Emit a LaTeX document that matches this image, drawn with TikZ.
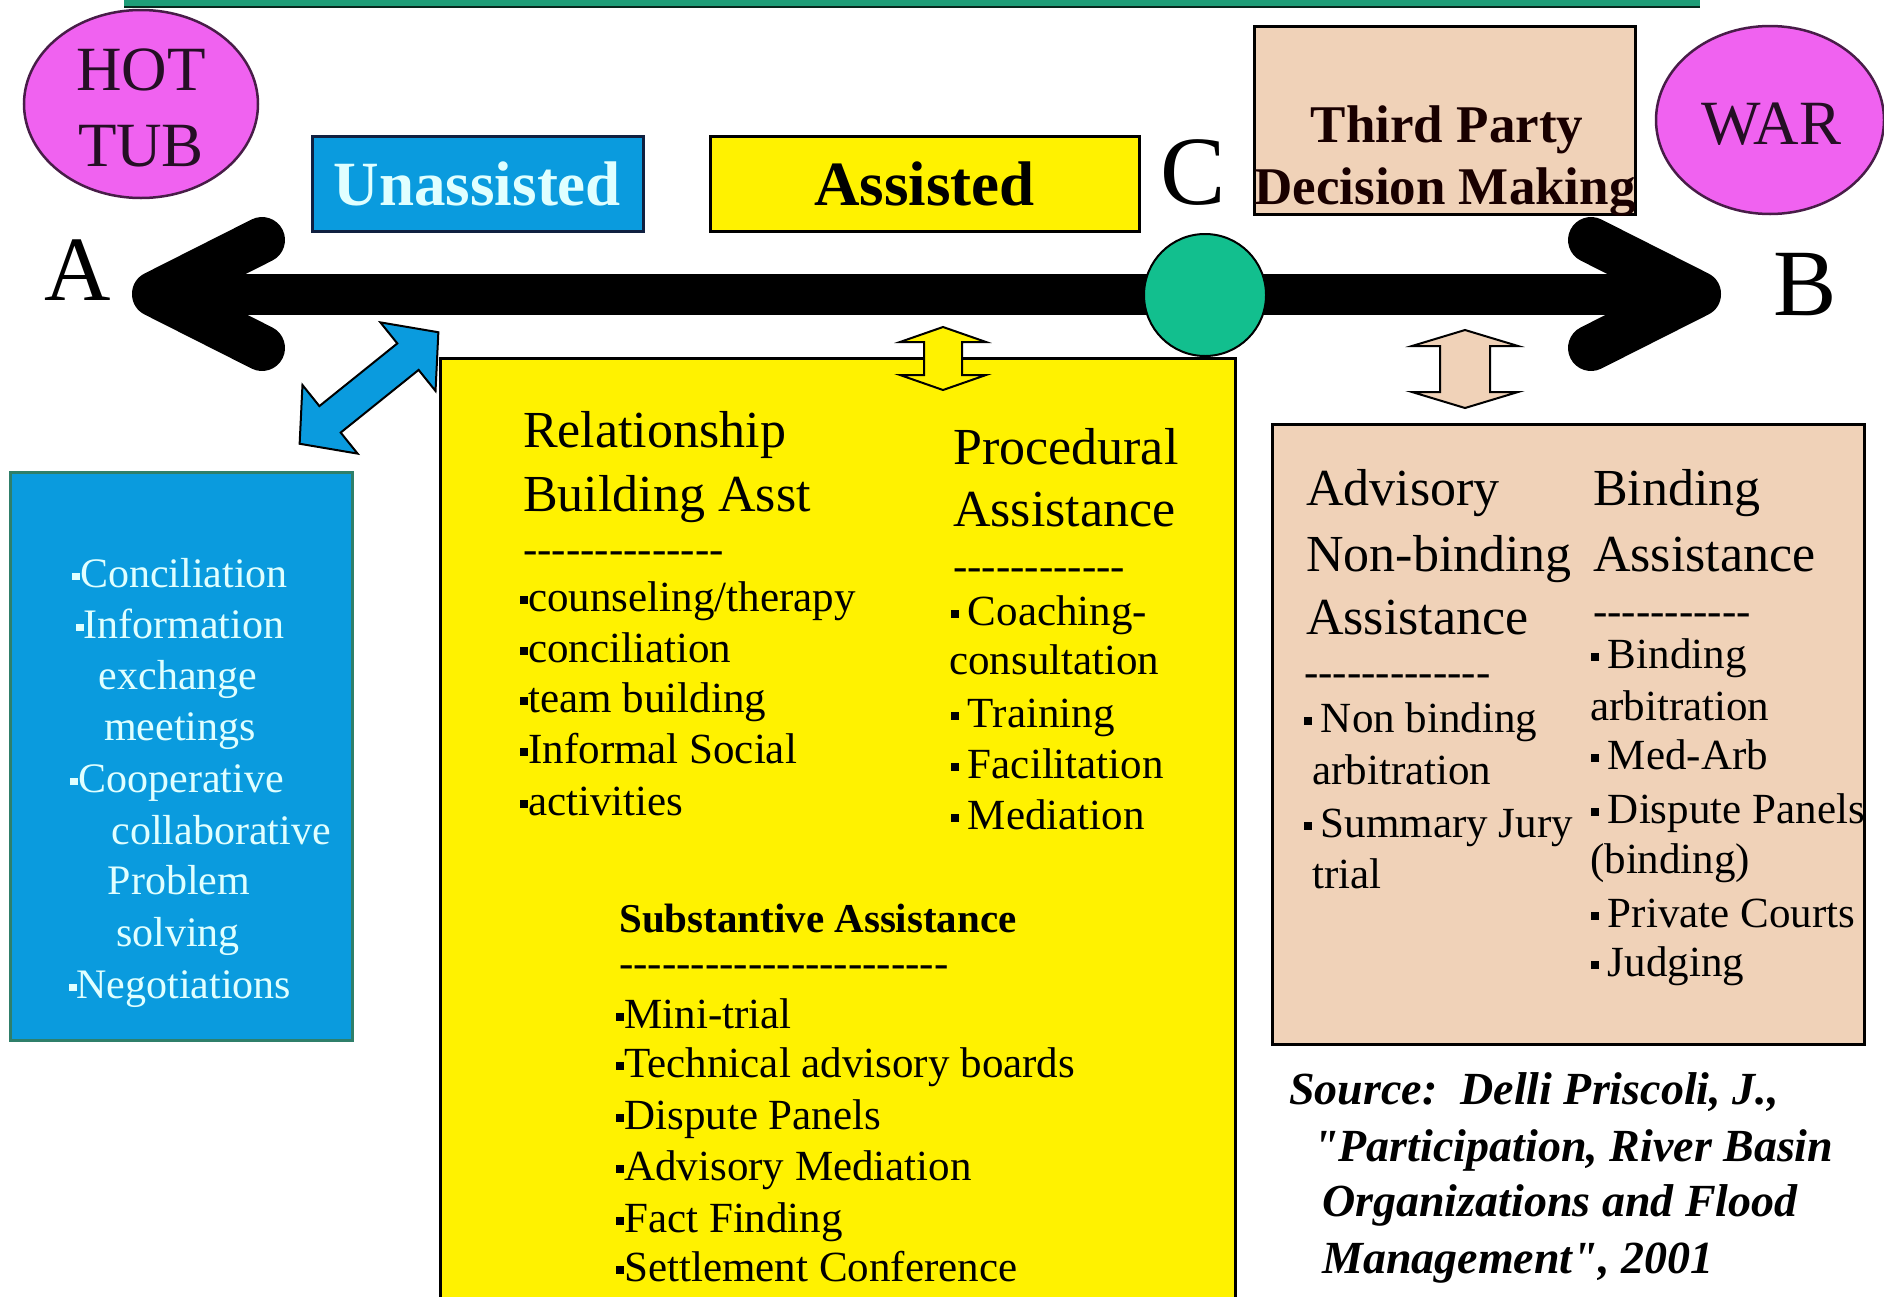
\documentclass[tikz,border=0pt]{standalone}
\usepackage{fontspec}
\setmainfont{Liberation Serif}
\newfontfamily\tnr{Liberation Serif}
\usetikzlibrary{shapes.geometric}

\definecolor{tubpink}{HTML}{F062F0}
\definecolor{skyblue}{HTML}{0A9BDE}
\definecolor{tanfill}{HTML}{F0D2B8}
\definecolor{tealdot}{HTML}{12BF8E}
\definecolor{barteal}{HTML}{1E9E78}
\definecolor{paletext}{HTML}{E0FFFF}
\definecolor{bluerim}{HTML}{2F7F6A}
\definecolor{navyrim}{HTML}{102040}

\newcommand\fs[2]{\fontsize{#1}{#2}\selectfont}
\newcommand\bul{\rule[0.16em]{0.19em}{0.19em}}
\newcommand\hyrow[1]{\count255=0 \loop\ifnum\count255<#1 \mbox{-}\advance\count255 by 1 \repeat}
% double-headed block arrow: centre x, centre y, angle, half length,
% head length, head half width, shaft half width, style
\newcommand\dblarr[8]{%
  \begin{scope}[shift={(#1,#2)}, rotate=#3]
    \draw[#8] (-#4,0) -- (-#4+#5,#6) -- (-#4+#5,#7) -- (#4-#5,#7) -- (#4-#5,#6)
      -- (#4,0) -- (#4-#5,-#6) -- (#4-#5,-#7) -- (-#4+#5,-#7) -- (-#4+#5,-#6) -- cycle;
  \end{scope}}

\begin{document}
\begin{tikzpicture}[x=1pt,y=-1pt,
  boxframe/.style={draw=black, line width=3pt, inner sep=0pt},
  bigtxt/.style={inner sep=0pt, anchor=base},
  hdr/.style={inner sep=0pt, anchor=west, font=\tnr\fs{52}{62}, execute at begin node=\strut},
  itm/.style={inner sep=0pt, anchor=west, font=\tnr\fs{43}{51}, execute at begin node=\strut},
  bltxt/.style={inner sep=0pt, anchor=center, text=paletext, font=\tnr\fs{42}{51}, execute at begin node=\strut},
  srctxt/.style={inner sep=0pt, anchor=west, font=\tnr\fs{46}{56}\bfseries\itshape, execute at begin node=\strut},
  arrowbody/.style={draw=black, line width=2pt, line join=miter}]

\fill[white] (0,0) rectangle (1884,1296);
\useasboundingbox (0,0) rectangle (1884,1296);

% thin band along the top edge
\fill[barteal] (124,0) rectangle (1700,7);
\draw[line width=2pt, black!75!barteal] (124,7) -- (1700,7);

% the two extremes
\node[ellipse, draw=black!70!tubpink, line width=2.5pt, fill=tubpink,
      minimum width=234pt, minimum height=188pt, inner sep=0pt] (hot) at (141,104) {};
\node[bigtxt, font=\tnr\fs{63}{75}, text=black!85!tubpink] (hotl) at (141,90) {HOT};
\node[bigtxt, font=\tnr\fs{63}{75}, text=black!85!tubpink] (tubl) at (141,166) {TUB};

\node[ellipse, draw=black!70!tubpink, line width=2.5pt, fill=tubpink,
      minimum width=228pt, minimum height=188pt, inner sep=0pt] (war) at (1770,120) {};
\node[bigtxt, font=\tnr\fs{63}{75}, text=black!85!tubpink] (warl) at (1771,144) {WAR};

% category headings
\node[boxframe, draw=navyrim, fill=skyblue, minimum width=331pt, minimum height=95pt] (unas) at (477.5,183.5) {};
\node[inner sep=0pt, font=\tnr\fs{63}{70}\bfseries, text=paletext] (unasl) at (unas) {Unassisted};

\node[boxframe, fill=yellow, minimum width=429pt, minimum height=95pt] (asst) at (924.5,183.5) {};
\node[inner sep=0pt, font=\tnr\fs{63}{70}\bfseries] (asstl) at (asst) {Assisted};

\node[boxframe, fill=tanfill, minimum width=381pt, minimum height=188pt] (third) at (1444.5,120) {};
\node[bigtxt, font=\tnr\fs{53}{62}\bfseries, text=black!90!red] (thirdl1) at (1447,142) {Third Party};
\node[bigtxt, font=\tnr\fs{53}{62}\bfseries, text=black!90!red] (thirdl2) at (1445,204) {Decision Making};

% end and mid labels
\node[bigtxt, font=\tnr\fs{92}{92}] (labA) at (78,300) {A};
\node[bigtxt, font=\tnr\fs{95}{95}] (labB) at (1805,315) {B};
\node[bigtxt, font=\tnr\fs{98}{98}] (labC) at (1193,204) {C};

% the continuum arrow
\coordinate (endA) at (155,294);
\coordinate (endB) at (1698,294);
\draw[line width=41pt] (endA) -- (endB);
\draw[line width=46pt, line cap=round, line join=round] (262,240) -- (endA) -- (262,348);
\draw[line width=46pt, line cap=round, line join=round] (1591,240) -- (endB) -- (1591,348);
\node[circle, draw=black, line width=2pt, fill=tealdot, minimum size=122pt, inner sep=0pt] (cpt) at (1205,295) {};

% detail panels
\node[draw=bluerim, line width=3pt, fill=skyblue, minimum width=342pt, minimum height=568pt, inner sep=0pt] (ubox) at (181,756) {};
\node[boxframe, fill=yellow, minimum width=795pt, minimum height=952pt] (abox) at (837.5,834) {};
\node[boxframe, fill=tanfill, minimum width=592pt, minimum height=620pt] (tbox) at (1568,734) {};

% links between the continuum and the panels
\dblarr{369}{388}{38.8}{89}{39}{44}{17}{arrowbody, fill=skyblue}
\dblarr{943}{358.5}{90}{31.5}{15}{43}{19}{arrowbody, fill=yellow}
\dblarr{1465}{369}{90}{39}{16}{53}{25}{arrowbody, fill=tanfill}

% unassisted list
\node[bltxt] (u1) at (180,577) {\bul Conciliation};
\node[bltxt] (u2) at (180,628) {\bul Information};
\node[bltxt] (u3) at (178,679) {exchange};
\node[bltxt] (u4) at (180,730) {meetings};
\node[bltxt] (u5) at (177,782) {\bul Cooperative};
\node[bltxt] (u6) at (221,834) {collaborative};
\node[bltxt] (u7) at (179,884) {Problem};
\node[bltxt] (u8) at (178,936) {solving};
\node[bltxt] (u9) at (180,988) {\bul Negotiations};

% relationship building column
\node[hdr] (r1) at (523,435) {Relationship};
\node[hdr] (r2) at (523,499) {Building Asst};
\node[itm] (r3) at (523,553) {\hyrow{14}};
\node[itm] (r4) at (520,601) {\bul counseling/therapy};
\node[itm] (r5) at (520,652) {\bul conciliation};
\node[itm] (r6) at (520,702) {\bul team building};
\node[itm] (r7) at (520,753) {\bul Informal Social};
\node[itm] (r8) at (520,805) {\bul activities};

% procedural column
\node[hdr] (p1) at (953,452) {Procedural};
\node[hdr] (p2) at (953,514) {Assistance};
\node[itm] (p3) at (953,570) {\hyrow{12}};
\node[itm] (p4) at (951,615) {\bul\hspace{0.2em}Coaching-};
\node[itm] (p5) at (949,664) {consultation};
\node[itm] (p6) at (951,717) {\bul\hspace{0.2em}Training};
\node[itm] (p7) at (951,768) {\bul\hspace{0.2em}Facilitation};
\node[itm] (p8) at (951,819) {\bul\hspace{0.2em}Mediation};

% substantive column
\node[itm, font=\tnr\fs{41}{51}\bfseries] (s1) at (619,922) {Substantive Assistance};
\node[itm] (s2) at (619,967) {\hyrow{23}};
\node[itm] (s3) at (616,1018) {\bul Mini-trial};
\node[itm] (s4) at (616,1067) {\bul Technical advisory boards};
\node[itm] (s5) at (616,1119) {\bul Dispute Panels};
\node[itm] (s6) at (616,1170) {\bul Advisory Mediation};
\node[itm] (s7) at (616,1222) {\bul Fact Finding};
\node[itm] (s8) at (616,1271) {\bul Settlement Conference};

% advisory column
\node[hdr] (v1) at (1306,493) {Advisory};
\node[hdr] (v2) at (1306,559) {Non-binding};
\node[hdr] (v3) at (1306,622) {Assistance};
\node[itm] (v4) at (1304,676) {\hyrow{13}};
\node[itm] (v5) at (1304,722) {\bul\hspace{0.2em}Non binding};
\node[itm] (v6) at (1312,774) {arbitration};
\node[itm] (v7) at (1304,827) {\bul\hspace{0.2em}Summary Jury};
\node[itm] (v8) at (1312,878) {trial};

% binding column
\node[hdr] (b1) at (1593,493) {Binding};
\node[hdr] (b2) at (1593,559) {Assistance};
\node[itm] (b3) at (1593,615) {\hyrow{11}};
\node[itm] (b4) at (1591,658) {\bul\hspace{0.2em}Binding};
\node[itm] (b5) at (1590,710) {arbitration};
\node[itm] (b6) at (1591,759) {\bul\hspace{0.2em}Med-Arb};
\node[itm] (b7) at (1591,813) {\bul\hspace{0.2em}Dispute Panels};
\node[itm] (b8) at (1590,863) {(binding)};
\node[itm] (b9) at (1591,917) {\bul\hspace{0.2em}Private Courts};
\node[itm] (b10) at (1591,966) {\bul\hspace{0.2em}Judging};

% citation
\node[srctxt] (src1) at (1289,1093) {Source:\ \ Delli Priscoli, J.,};
\node[srctxt] (src2) at (1313,1150) {\char34 Participation, River Basin};
\node[srctxt] (src3) at (1322,1205) {Organizations and Flood};
\node[srctxt] (src4) at (1322,1262) {Management\char34, 2001};

\end{tikzpicture}
\end{document}
